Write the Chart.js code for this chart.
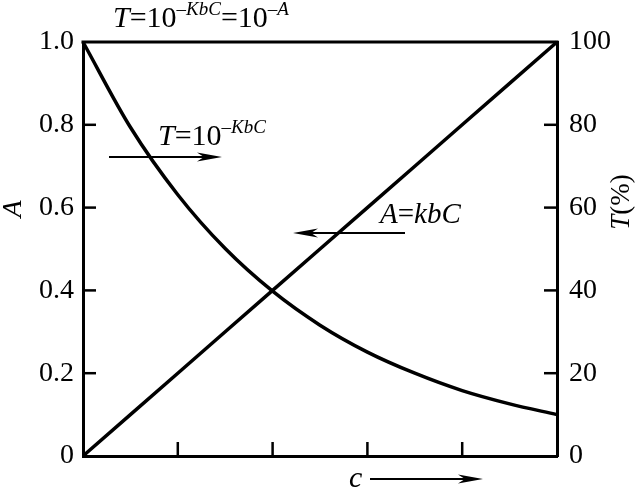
<!DOCTYPE html>
<html>
<head>
<meta charset="utf-8">
<script src="https://cdn.jsdelivr.net/npm/chart.js@4.4.1/dist/chart.umd.min.js"></script>
<style>
html,body{margin:0;padding:0;background:#fff;}
#wrap{width:643px;height:489px;}
</style>
</head>
<body>
<div id="wrap"><canvas id="c" width="643" height="489"></canvas></div>
<script>
// Concentration (relative units along the x axis)
const conc = [0, 0.1, 0.2, 0.3, 0.4, 0.5, 0.6, 0.7, 0.8, 0.9, 1.0];
// Absorbance A (left axis)
const absorbance = [0, 0.1, 0.2, 0.3, 0.4, 0.5, 0.6, 0.7, 0.8, 0.9, 1.0];
// Transmittance T (%) (right axis)
const transmittance = [100, 79.4, 63.1, 50.1, 39.8, 31.6, 25.1, 20.0, 15.8, 12.6, 10.0];
// Tick labels
const leftTicks = ['0', '0.2', '0.4', '0.6', '0.8', '1.0'];
const rightTicks = ['0', '20', '40', '60', '80', '100'];

const SERIF = '"Liberation Serif", "Times New Roman", serif';
const SUP = 0.63;

function segFont(s, base) {
  const size = s.sup ? Math.round(base * SUP) : base;
  return (s.i ? 'italic ' : '') + size + 'px ' + SERIF;
}
function richWidth(ctx, segs, base) {
  let w = 0;
  for (const s of segs) { ctx.font = segFont(s, base); w += ctx.measureText(s.t).width; }
  return w;
}
function drawRich(ctx, x, y, segs, base) {
  ctx.save();
  ctx.fillStyle = '#000';
  ctx.textBaseline = 'alphabetic';
  ctx.textAlign = 'left';
  let cx = x;
  for (const s of segs) {
    ctx.font = segFont(s, base);
    ctx.fillText(s.t, cx, s.sup ? y - base * 0.4 : y);
    cx += ctx.measureText(s.t).width;
  }
  ctx.restore();
}
function arrow(ctx, x1, y, x2) {
  const dir = x2 > x1 ? 1 : -1;
  ctx.save();
  ctx.strokeStyle = '#000';
  ctx.fillStyle = '#000';
  ctx.lineWidth = 2;
  ctx.beginPath();
  ctx.moveTo(x1, y);
  ctx.lineTo(x2 - dir * 6, y);
  ctx.stroke();
  ctx.beginPath();
  ctx.moveTo(x2, y);
  ctx.lineTo(x2 - dir * 25, y - 4.5);
  ctx.lineTo(x2 - dir * 18, y);
  ctx.lineTo(x2 - dir * 25, y + 4.5);
  ctx.closePath();
  ctx.fill();
  ctx.restore();
}

const decor = {
  id: 'decor',
  afterDraw(chart) {
    const ctx = chart.ctx;
    const a = chart.chartArea;
    const xs = chart.scales.x, ys = chart.scales.y, y2 = chart.scales.y2;
    ctx.save();
    ctx.strokeStyle = '#000';
    ctx.lineWidth = 3;
    // top frame line
    ctx.beginPath();
    ctx.moveTo(a.left - 1.5, a.top);
    ctx.lineTo(a.right + 1.5, a.top);
    ctx.stroke();
    // inward tick marks
    ctx.lineWidth = 2.5;
    ys.ticks.forEach(t => {
      if (t.value <= 0 || t.value >= 1) return;
      const p = ys.getPixelForValue(t.value);
      ctx.beginPath(); ctx.moveTo(a.left, p); ctx.lineTo(a.left + 13, p); ctx.stroke();
    });
    y2.ticks.forEach(t => {
      if (t.value <= 0 || t.value >= 100) return;
      const p = y2.getPixelForValue(t.value);
      ctx.beginPath(); ctx.moveTo(a.right, p); ctx.lineTo(a.right - 13, p); ctx.stroke();
    });
    xs.ticks.forEach(t => {
      if (t.value <= 0 || t.value >= 1) return;
      const p = xs.getPixelForValue(t.value);
      ctx.beginPath(); ctx.moveTo(p, a.bottom); ctx.lineTo(p, a.bottom - 14); ctx.stroke();
    });
    ctx.restore();

    // Title formula
    drawRich(ctx, 113, 27, [
      {t: 'T', i: true}, {t: '=10'}, {t: '\u2013', sup: true}, {t: 'KbC', i: true, sup: true},
      {t: '=10'}, {t: '\u2013', sup: true}, {t: 'A', i: true, sup: true}
    ], 30);
    // T annotation + arrow
    drawRich(ctx, 158, 145, [
      {t: 'T', i: true}, {t: '=10'}, {t: '\u2013', sup: true}, {t: 'KbC', i: true, sup: true}
    ], 30);
    arrow(ctx, 109, 157, 222);
    // A annotation + arrow
    drawRich(ctx, 380, 223, [{t: 'A', i: true}, {t: '='}, {t: 'kbC', i: true}], 29);
    arrow(ctx, 405, 233, 293);
    // c label + arrow
    drawRich(ctx, 349, 487, [{t: 'c', i: true}], 30);
    arrow(ctx, 370, 479, 483);

    // Left axis title "A" (rotated)
    ctx.save();
    ctx.translate(21, 209);
    ctx.rotate(-Math.PI / 2);
    let segs = [{t: 'A', i: true}];
    let w = richWidth(ctx, segs, 28);
    drawRich(ctx, -w / 2, 0, segs, 28);
    ctx.restore();
    // Right axis title "T(%)" (rotated)
    ctx.save();
    ctx.translate(629, 202);
    ctx.rotate(-Math.PI / 2);
    segs = [{t: 'T', i: true}, {t: '(%)'}];
    w = richWidth(ctx, segs, 27);
    drawRich(ctx, -w / 2, 0, segs, 27);
    ctx.restore();
  }
};

const tickFont = {family: SERIF, size: 28};

new Chart(document.getElementById('c'), {
  type: 'line',
  data: {
    datasets: [
      {
        data: conc.map((x, i) => ({x: x, y: absorbance[i]})),
        yAxisID: 'y',
        borderColor: '#000',
        borderWidth: 3.5,
        pointRadius: 0,
        tension: 0,
        clip: false
      },
      {
        data: conc.map((x, i) => ({x: x, y: transmittance[i]})),
        yAxisID: 'y2',
        borderColor: '#000',
        borderWidth: 3.5,
        pointRadius: 0,
        cubicInterpolationMode: 'monotone',
        clip: false
      }
    ]
  },
  options: {
    responsive: false,
    animation: false,
    events: [],
    layout: {padding: {top: 42, left: 0, right: 0, bottom: 0}},
    plugins: {legend: {display: false}, tooltip: {enabled: false}, title: {display: false}},
    scales: {
      x: {
        type: 'linear', min: 0, max: 1,
        ticks: {stepSize: 0.2, display: false},
        grid: {display: false},
        border: {display: true, color: '#000', width: 3},
        afterFit: s => { s.height = 33; }
      },
      y: {
        type: 'linear', position: 'left', min: 0, max: 1,
        ticks: {
          stepSize: 0.2, color: '#000', font: tickFont, padding: 9,
          callback: (v, i) => leftTicks[i]
        },
        grid: {display: false, drawTicks: false},
        border: {display: true, color: '#000', width: 3},
        afterFit: s => { s.width = 83; }
      },
      y2: {
        type: 'linear', position: 'right', min: 0, max: 100,
        ticks: {
          stepSize: 20, color: '#000', font: tickFont, padding: 12,
          callback: (v, i) => rightTicks[i]
        },
        grid: {display: false, drawTicks: false},
        border: {display: true, color: '#000', width: 3},
        afterFit: s => { s.width = 86; }
      }
    }
  },
  plugins: [decor]
});
</script>
</body>
</html>
